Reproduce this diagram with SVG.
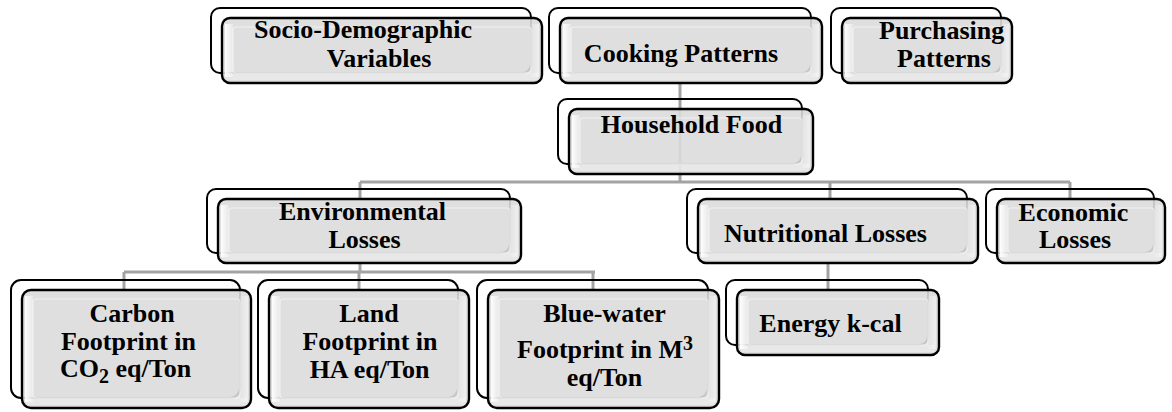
<svg xmlns="http://www.w3.org/2000/svg" width="1172" height="412" viewBox="0 0 1172 412">
<defs>
<linearGradient id="hl" x1="0" y1="0" x2="1" y2="0">
<stop offset="0" stop-color="#ffffff" stop-opacity="0.95"/>
<stop offset="1" stop-color="#ffffff" stop-opacity="0.25"/>
</linearGradient>
<linearGradient id="hr" x1="0" y1="0" x2="1" y2="0">
<stop offset="0" stop-color="#ffffff" stop-opacity="0.1"/>
<stop offset="1" stop-color="#ffffff" stop-opacity="0.5"/>
</linearGradient>
</defs>
<style>
.bk{fill:none;stroke:#000;stroke-width:2}
.fr{fill:#dcdcdc;fill-opacity:0.9;stroke:#000;stroke-width:2.4}
.in{fill:none;stroke:#f4f4f4;stroke-width:1.2;stroke-opacity:0.8}
.hl{fill:url(#hl)}
.hr{fill:url(#hr)}
.bt{fill:#ffffff;fill-opacity:0.3}
.c{fill:none;stroke:#a3a3a3;stroke-width:3}
text{font-family:"Liberation Serif","Times New Roman",serif;font-weight:bold;font-size:26px;fill:#000;text-anchor:middle}
.st{text-anchor:start}
</style>
<rect width="1172" height="412" fill="#fff"/>
<g id="connectors">
<path class="c" d="M680 83V182"/>
<path class="c" d="M360 182H1070M360 182V199M830 182V199M1070 182V199"/>
<path class="c" d="M360 263V272M124 272H595M124 272V290M359 272V290M593 272V290"/>
<path class="c" d="M828 263V290"/>
</g>
<g id="socio">
<rect class="bk" x="211" y="8" width="320" height="65" rx="9"/>
<rect class="fr" x="222" y="18" width="320" height="65" rx="8"/>
<rect class="in" x="233" y="27" width="298" height="46" rx="3"/>
<rect class="hl" x="225" y="24" width="8" height="53"/>
<rect class="hr" x="531" y="24" width="8" height="53"/>
<rect class="bt" x="226" y="73" width="312" height="7"/>
<text class="st" x="254" y="38">Socio-Demographic</text>
<text x="379" y="67">Variables</text>
</g>
<g id="cooking">
<rect class="bk" x="549" y="8" width="262" height="65" rx="9"/>
<rect class="fr" x="560" y="18" width="262" height="65" rx="8"/>
<rect class="in" x="571" y="27" width="240" height="46" rx="3"/>
<rect class="hl" x="563" y="24" width="8" height="53"/>
<rect class="hr" x="811" y="24" width="8" height="53"/>
<rect class="bt" x="564" y="73" width="254" height="7"/>
<text x="681" y="62">Cooking Patterns</text>
</g>
<g id="purchasing">
<rect class="bk" x="831" y="8" width="170" height="65" rx="9"/>
<rect class="fr" x="842" y="18" width="170" height="65" rx="8"/>
<rect class="in" x="853" y="27" width="148" height="46" rx="3"/>
<rect class="hl" x="845" y="24" width="8" height="53"/>
<rect class="hr" x="1001" y="24" width="8" height="53"/>
<rect class="bt" x="846" y="73" width="162" height="7"/>
<text class="st" x="879" y="39">Purchasing</text>
<text class="st" x="897" y="67">Patterns</text>
</g>
<g id="household">
<rect class="bk" x="558" y="99" width="244" height="65" rx="9"/>
<rect class="fr" x="569" y="109" width="244" height="65" rx="8"/>
<rect class="in" x="580" y="118" width="222" height="46" rx="3"/>
<rect class="hl" x="572" y="115" width="8" height="53"/>
<rect class="hr" x="802" y="115" width="8" height="53"/>
<rect class="bt" x="573" y="164" width="236" height="7"/>
<text x="691.5" y="133">Household Food</text>
</g>
<g id="environmental">
<rect class="bk" x="207" y="189" width="303" height="64" rx="9"/>
<rect class="fr" x="218" y="199" width="303" height="64" rx="8"/>
<rect class="in" x="229" y="208" width="281" height="45" rx="3"/>
<rect class="hl" x="221" y="205" width="8" height="52"/>
<rect class="hr" x="510" y="205" width="8" height="52"/>
<rect class="bt" x="222" y="253" width="295" height="7"/>
<text x="362.5" y="220">Environmental</text>
<text x="364.5" y="248">Losses</text>
</g>
<g id="nutritional">
<rect class="bk" x="687" y="189" width="280" height="64" rx="9"/>
<rect class="fr" x="698" y="199" width="280" height="64" rx="8"/>
<rect class="in" x="709" y="208" width="258" height="45" rx="3"/>
<rect class="hl" x="701" y="205" width="8" height="52"/>
<rect class="hr" x="967" y="205" width="8" height="52"/>
<rect class="bt" x="702" y="253" width="272" height="7"/>
<text x="825.5" y="242">Nutritional Losses</text>
</g>
<g id="economic">
<rect class="bk" x="986" y="189" width="168" height="64" rx="9"/>
<rect class="fr" x="997" y="199" width="168" height="64" rx="8"/>
<rect class="in" x="1008" y="208" width="146" height="45" rx="3"/>
<rect class="hl" x="1000" y="205" width="8" height="52"/>
<rect class="hr" x="1154" y="205" width="8" height="52"/>
<rect class="bt" x="1001" y="253" width="160" height="7"/>
<text x="1073.5" y="221">Economic</text>
<text x="1075" y="248">Losses</text>
</g>
<g id="carbon">
<rect class="bk" x="11" y="280" width="229" height="118" rx="10"/>
<rect class="fr" x="22" y="290" width="229" height="118" rx="9"/>
<rect class="in" x="33" y="299" width="207" height="99" rx="3"/>
<rect class="hl" x="25" y="296" width="8" height="106"/>
<rect class="hr" x="240" y="296" width="8" height="106"/>
<rect class="bt" x="26" y="398" width="221" height="7"/>
<text x="132" y="322">Carbon</text>
<text x="128.5" y="350">Footprint in</text>
<text class="st" x="60" y="377">CO<tspan style="font-size:20px" dy="6">2</tspan><tspan dy="-6"> eq/Ton</tspan></text>
</g>
<g id="land">
<rect class="bk" x="258" y="280" width="200" height="118" rx="10"/>
<rect class="fr" x="269" y="290" width="200" height="118" rx="9"/>
<rect class="in" x="280" y="299" width="178" height="99" rx="3"/>
<rect class="hl" x="272" y="296" width="8" height="106"/>
<rect class="hr" x="458" y="296" width="8" height="106"/>
<rect class="bt" x="273" y="398" width="192" height="7"/>
<text x="369" y="322">Land</text>
<text x="370" y="350">Footprint in</text>
<text x="369.5" y="378">HA eq/Ton</text>
</g>
<g id="bluewater">
<rect class="bk" x="477" y="280" width="231" height="118" rx="10"/>
<rect class="fr" x="488" y="290" width="231" height="118" rx="9"/>
<rect class="in" x="499" y="299" width="209" height="99" rx="3"/>
<rect class="hl" x="491" y="296" width="8" height="106"/>
<rect class="hr" x="708" y="296" width="8" height="106"/>
<rect class="bt" x="492" y="398" width="223" height="7"/>
<text x="604.5" y="322">Blue-water</text>
<text class="st" x="517" y="358">Footprint in M<tspan style="font-size:20px" dy="-8">3</tspan></text>
<text x="604.5" y="386">eq/Ton</text>
</g>
<g id="energy">
<rect class="bk" x="726" y="280" width="202" height="65" rx="9"/>
<rect class="fr" x="737" y="290" width="202" height="65" rx="8"/>
<rect class="in" x="748" y="299" width="180" height="46" rx="3"/>
<rect class="hl" x="740" y="296" width="8" height="53"/>
<rect class="hr" x="928" y="296" width="8" height="53"/>
<rect class="bt" x="741" y="345" width="194" height="7"/>
<text x="830.5" y="332">Energy k-cal</text>
</g>
</svg>
